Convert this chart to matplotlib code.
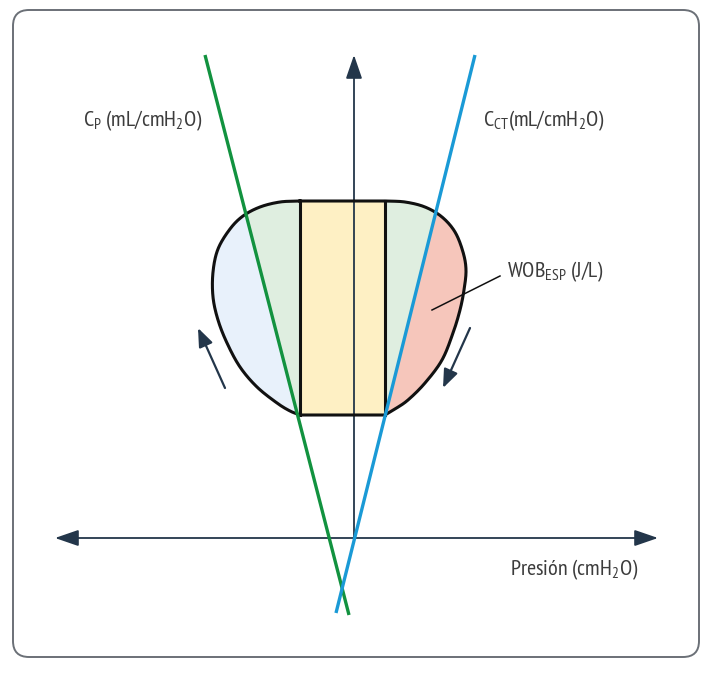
import matplotlib
matplotlib.use("Agg")
import matplotlib.pyplot as plt
import numpy as np
from matplotlib.patches import Polygon, FancyBboxPatch, FancyArrowPatch

plt.rcParams['font.family'] = ['PT Sans Narrow', 'Fira Sans Condensed', 'Asap Condensed',
                               'Archivo Narrow', 'DejaVu Sans']
plt.rcParams['mathtext.default'] = 'regular'

# ---- geometry of the diagram (pixel coordinates) ----
loop_left_x = [300, 280, 260, 243, 230, 218, 213, 213, 218, 227, 240, 257, 277, 290, 300]
loop_left_y = [201, 202, 207, 216, 229, 249, 272, 297, 320, 343, 367, 387, 403, 411, 415]
loop_right_x = [385, 405, 425, 442, 455, 463, 466, 464, 460, 453, 442, 425, 408, 395, 385]
loop_right_y = [201, 202, 207, 217, 232, 252, 270, 290, 310, 333, 360, 383, 400, 409, 415]
rect_x = [300, 385]
rect_y = [201, 415]
green_x = [205, 349]
green_y = [55, 615]
blue_x = [475, 336]
blue_y = [55, 613]
vaxis_x = [354, 354]
vaxis_y = [538, 55]
haxis_x = [55, 658]
haxis_y = [538, 538]
arrow_left = [(225, 388), (198, 328)]
arrow_right = [(470, 328), (443, 388)]
leader = [(432, 310), (500, 276)]

NAVY = '#23364a'
GREEN = '#12923f'
BLUE = '#1a9ad6'
TXT = '#3c3c3c'


def catmull(xs, ys, n=20):
    p = np.column_stack([xs, ys]).astype(float)
    p = np.vstack([2 * p[0] - p[1], p, 2 * p[-1] - p[-2]])
    out = []
    for i in range(1, len(p) - 2):
        p0, p1, p2, p3 = p[i - 1], p[i], p[i + 1], p[i + 2]
        t = np.linspace(0, 1, n, endpoint=False)[:, None]
        pt = 0.5 * ((2 * p1) + (-p0 + p2) * t + (2 * p0 - 5 * p1 + 4 * p2 - p3) * t ** 2
                    + (-p0 + 3 * p1 - 3 * p2 + p3) * t ** 3)
        out.append(pt)
    out.append(p[-2][None, :])
    return np.vstack(out)


fig = plt.figure(figsize=(7.09, 6.75), dpi=100)
ax = fig.add_axes([0, 0, 1, 1])
ax.set_xlim(0, 709)
ax.set_ylim(675, 0)
ax.axis('off')

# frame
frame = FancyBboxPatch((13, 10), 686, 647, boxstyle="round,pad=0,rounding_size=16",
                       fc='white', ec='#6b7077', lw=1.4, zorder=0)
ax.add_patch(frame)

L = catmull(loop_left_x, loop_left_y)
R = catmull(loop_right_x, loop_right_y)
loop_pts = np.vstack([L, R[::-1]])
loop = Polygon(loop_pts, closed=True, fc='#dfeee0', ec='none', zorder=1)
ax.add_patch(loop)


def line_x(xs, ys, y):
    return xs[0] + (xs[1] - xs[0]) * (y - ys[0]) / (ys[1] - ys[0])


gy0, gy1 = 150, 450
blue_region = Polygon([(100, gy0), (line_x(green_x, green_y, gy0), gy0),
                       (line_x(green_x, green_y, gy1), gy1), (100, gy1)],
                      closed=True, fc='#e8f1fb', ec='none', zorder=1.5)
ax.add_patch(blue_region)
blue_region.set_clip_path(loop)

red_region = Polygon([(600, gy0), (line_x(blue_x, blue_y, gy0), gy0),
                      (line_x(blue_x, blue_y, gy1), gy1), (600, gy1)],
                     closed=True, fc='#f6c6bb', ec='none', zorder=1.5)
ax.add_patch(red_region)
red_region.set_clip_path(loop)

ax.fill([rect_x[0], rect_x[1], rect_x[1], rect_x[0]],
        [rect_y[0], rect_y[0], rect_y[1], rect_y[1]], fc='#fef0c4', ec='none', zorder=2)

# outline
closed = np.vstack([loop_pts, loop_pts[:1]])
ax.plot(closed[:, 0], closed[:, 1], color='#111111', lw=2.2, zorder=4,
        solid_joinstyle='round')
ax.plot([rect_x[0], rect_x[0]], rect_y, color='#111111', lw=2.2, zorder=4)
ax.plot([rect_x[1], rect_x[1]], rect_y, color='#111111', lw=2.2, zorder=4)

# axes arrows
ax.add_patch(FancyArrowPatch((vaxis_x[0], vaxis_y[0]), (vaxis_x[1], vaxis_y[1]),
                             arrowstyle='-|>,head_length=1.45,head_width=0.5', mutation_scale=10,
                             color=NAVY, lw=1.3, zorder=3, shrinkA=0, shrinkB=0))
ax.add_patch(FancyArrowPatch((haxis_x[0], haxis_y[0]), (haxis_x[1], haxis_y[1]),
                             arrowstyle='<|-|>,head_length=1.45,head_width=0.5', mutation_scale=10,
                             color=NAVY, lw=1.3, zorder=3, shrinkA=0, shrinkB=0))

# compliance lines
ax.plot(green_x, green_y, color=GREEN, lw=2.4, zorder=5, solid_capstyle='butt')
ax.plot(blue_x, blue_y, color=BLUE, lw=2.4, zorder=5, solid_capstyle='butt')

# direction arrows
for a in (arrow_left, arrow_right):
    ax.add_patch(FancyArrowPatch(a[0], a[1],
                                 arrowstyle='-|>,head_length=1.4,head_width=0.55', mutation_scale=8,
                                 color=NAVY, lw=1.6, zorder=6, shrinkA=0, shrinkB=0))

ax.plot([leader[0][0], leader[1][0]], [leader[0][1], leader[1][1]], color='#111111', lw=1.1, zorder=6)

fs = 16
ax.text(83, 121, r'C$_{P}$ (mL/cmH$_{2}$O)', fontsize=fs, color=TXT, va='center', ha='left')
ax.text(483, 121, r'C$_{CT}$(mL/cmH$_{2}$O)', fontsize=fs, color=TXT, va='center', ha='left')
ax.text(507, 272, r'WOB$_{ESP}$ (J/L)', fontsize=fs, color=TXT, va='center', ha='left')
ax.text(510, 570, r'Presión (cmH$_{2}$O)', fontsize=fs, color=TXT, va='center', ha='left')

fig.savefig('out.png', dpi=100)
